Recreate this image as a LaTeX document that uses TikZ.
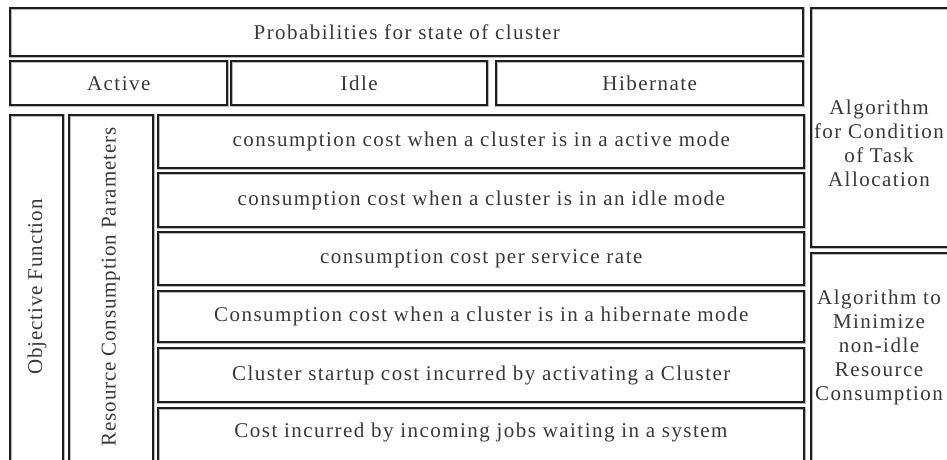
\documentclass[tikz,border=0pt]{standalone}
\usepackage{fontspec}
\setmainfont{Liberation Serif}[LetterSpace=7]
\newfontfamily\vertfont{Liberation Serif}[LetterSpace=4]
\begin{document}
\begin{tikzpicture}[x=1pt,y=-1pt,
  box/.style={draw=gray!55, line width=0.5pt, double=black!88, double distance=1.7pt,
    rectangle, anchor=north west, inner sep=0pt, font=\fontsize{21}{24}\selectfont, text=black!78},
  lbl/.style={inner sep=0pt, font=\fontsize{21}{24}\selectfont, text=black!78, align=center},
  vlbl/.style={inner sep=0pt, font=\vertfont\fontsize{21}{24}\selectfont, text=black!78, rotate=90}]
\useasboundingbox (0,0) rectangle (947,460);
\clip (0,0) rectangle (947,460);
% top rows
\node[box, minimum width=793, minimum height=48] (prob) at (10,8) {Probabilities for state of cluster};
\node[box, minimum width=217, minimum height=44] (active) at (10,61) {Active};
\node[box, minimum width=256, minimum height=44] (idle) at (231,61) {Idle};
\node[box, minimum width=307, minimum height=44] (hib) at (496,61) {Hibernate};
% left columns
\node[box, minimum width=53, minimum height=360] (obj) at (10,115) {};
\node[box, minimum width=84, minimum height=360] (res) at (69,115) {};
\node[vlbl] (objt) at (37,287) {Objective Function};
\node[vlbl] (rest) at (111,287) {Resource Consumption Parameters};
% cost rows
\node[box, minimum width=646, minimum height=53] (r1) at (158,115) {consumption cost when a cluster is in a active mode};
\node[box, minimum width=646, minimum height=54] (r2) at (158,173) {consumption cost when a cluster is in an idle mode};
\node[box, minimum width=646, minimum height=53] (r3) at (158,232) {consumption cost per service rate};
\node[box, minimum width=646, minimum height=51] (r4) at (158,291) {Consumption cost when a cluster is in a hibernate mode};
\node[box, minimum width=646, minimum height=54] (r5) at (158,348) {Cluster startup cost incurred by activating a Cluster};
\node[box, minimum width=646, minimum height=60] (r6) at (158,408) {};
\node[lbl] (r6t) at (481,432) {Cost incurred by incoming jobs waiting in a system};
% right column
\node[box, minimum width=140, minimum height=239] (alg1) at (811,8) {};
\node[lbl] (alg1t) at (879,143) {Algorithm\\for Condition\\of Task\\Allocation};
\node[box, minimum width=140, minimum height=215] (alg2) at (811,253) {};
\node[lbl] (alg2t) at (879,347) {Algorithm to\\Minimize\\non-idle\\Resource\\Consumption};
\end{tikzpicture}
\end{document}
